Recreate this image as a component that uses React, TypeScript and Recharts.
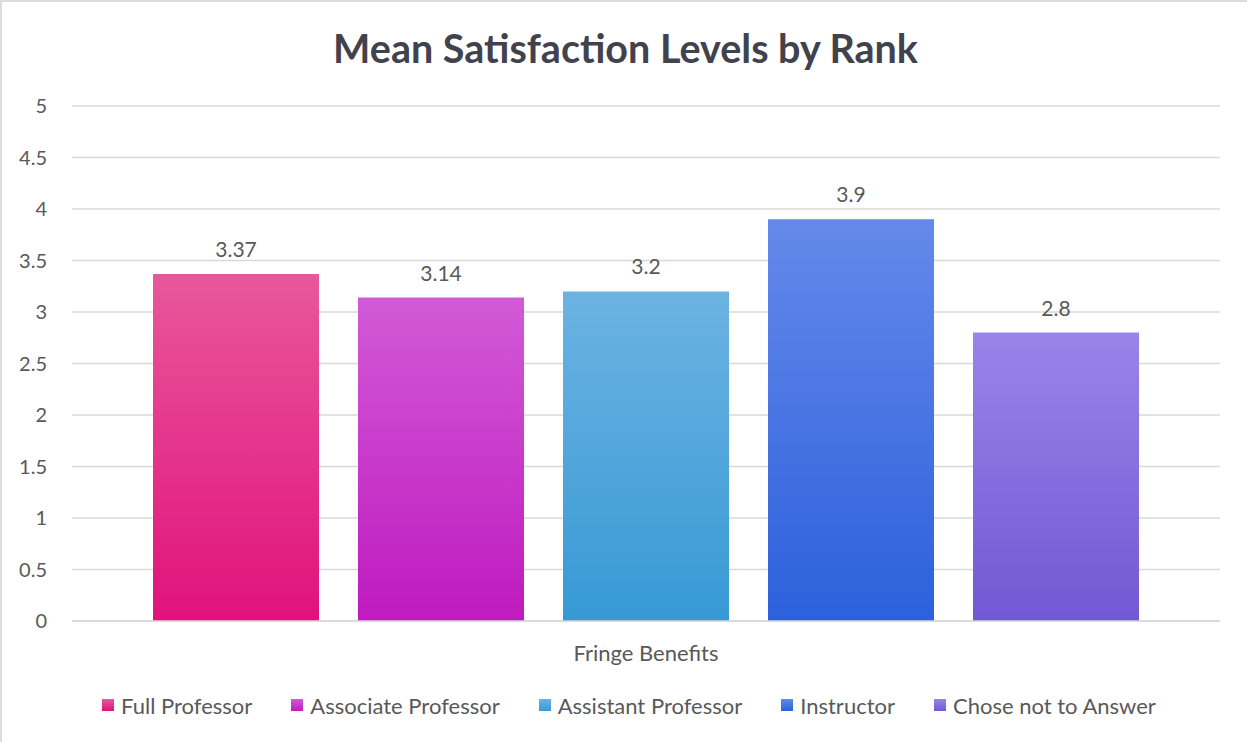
import { BarChart, Bar, XAxis, YAxis, CartesianGrid, Legend, LabelList } from 'recharts'

const categories = ['Fringe Benefits']
const seriesNames = ['Full Professor', 'Associate Professor', 'Assistant Professor', 'Instructor', 'Chose not to Answer']
const fullProfessor = [3.37]
const associateProfessor = [3.14]
const assistantProfessor = [3.2]
const instructor = [3.9]
const choseNotToAnswer = [2.8]
const yTicks = [0, 0.5, 1, 1.5, 2, 2.5, 3, 3.5, 4, 4.5, 5]

const seriesValues = [fullProfessor, associateProfessor, assistantProfessor, instructor, choseNotToAnswer]
const KEYS = ['s0', 's1', 's2', 's3', 's4']

// top / bottom stops of each bar gradient
const GRADS = [
  ['#e9579b', '#e0127c'],
  ['#d25ad7', '#bf1abf'],
  ['#6cb3e3', '#3799d4'],
  ['#6589eb', '#2c60dc'],
  ['#9a84e9', '#7258d4'],
]

const FONT = 'Lato, "Open Sans", sans-serif'
const TEXT = '#595959'

const data = categories.map((name, i) => {
  const row: any = { name }
  seriesValues.forEach((vals, j) => { row[KEYS[j]] = vals[i] })
  return row
})

function LegendBox() {
  return (
    <div style={{ height: 50, display: 'flex', justifyContent: 'center', alignItems: 'flex-start', paddingLeft: 38, boxSizing: 'border-box', fontFamily: FONT, fontSize: 22, color: TEXT }}>
      {seriesNames.map((n, i) => (
        <div key={n} style={{ display: 'flex', alignItems: 'center', marginRight: i < seriesNames.length - 1 ? 39 : 0, height: 26 }}>
          <span style={{ width: 12, height: 12, marginRight: 7, background: `linear-gradient(${GRADS[i][0]}, ${GRADS[i][1]})`, display: 'inline-block' }} />
          <span>{n}</span>
        </div>
      ))}
    </div>
  )
}

export default function App() {
  return (
    <div style={{ position: 'absolute', left: 0, top: 0, width: 1247, height: 742, background: '#fff', borderLeft: '2px solid #dcdcdc', borderTop: '2px solid #dcdcdc', boxSizing: 'border-box', overflow: 'hidden' }}>
      <div style={{ position: 'absolute', left: 0, top: 22, width: 1247, textAlign: 'center', fontFamily: FONT, fontWeight: 700, fontSize: 39.5, color: '#42424d' }}>
        Mean Satisfaction Levels by Rank
      </div>
      <div style={{ position: 'absolute', left: -2, top: -2 }}>
        <BarChart width={1247} height={742} data={data} margin={{ top: 106, right: 27, left: 0, bottom: 0 }} barSize={166} barGap={39}>
          <defs>
            {GRADS.map((g, i) => (
              <linearGradient key={i} id={`g${i}`} x1="0" y1="0" x2="0" y2="1">
                <stop offset="0%" stopColor={g[0]} />
                <stop offset="100%" stopColor={g[1]} />
              </linearGradient>
            ))}
          </defs>
          <CartesianGrid vertical={false} stroke="#d9d9d9" strokeWidth={1.5} />
          <XAxis dataKey="name" height={71} axisLine={{ stroke: '#d9d9d9', strokeWidth: 1.5 }} tickLine={false} tickSize={0} tickMargin={24} tick={{ fill: TEXT, fontSize: 22, fontFamily: FONT }} />
          <YAxis width={72} domain={[0, 5]} ticks={yTicks} axisLine={false} tickLine={false} tickSize={0} tickMargin={25} tick={{ fill: TEXT, fontSize: 20, fontFamily: FONT }} />
          <Legend verticalAlign="bottom" content={() => <LegendBox />} />
          {KEYS.map((k, i) => (
            <Bar key={k} dataKey={k} name={seriesNames[i]} fill={`url(#g${i})`} isAnimationActive={false}>
              <LabelList dataKey={k} position="top" offset={17} fill={TEXT} fontSize={21} fontFamily={FONT} />
            </Bar>
          ))}
        </BarChart>
      </div>
    </div>
  )
}
